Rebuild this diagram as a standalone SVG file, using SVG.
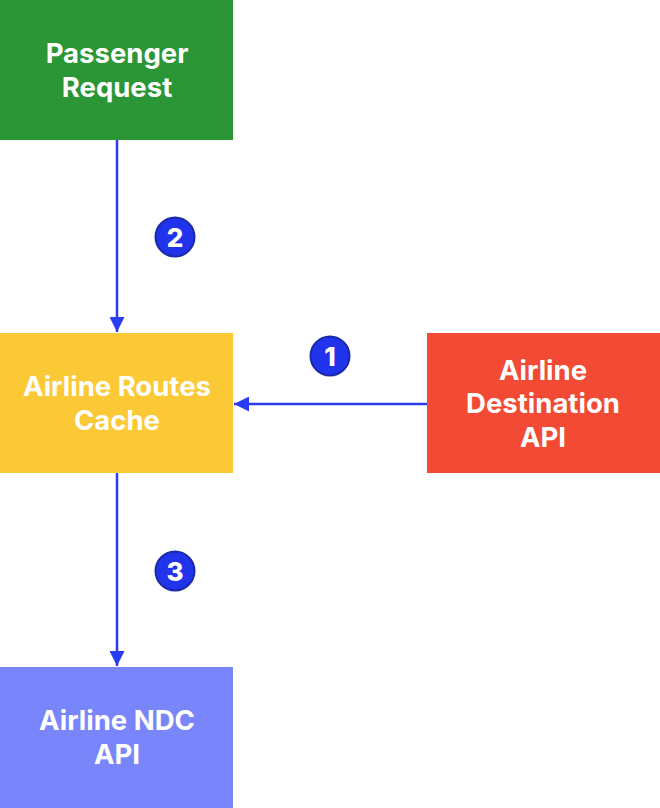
<svg xmlns="http://www.w3.org/2000/svg" width="660" height="808" viewBox="0 0 660 808">
<style>
.lbl{font-family:Inter,"Noto Sans","Liberation Sans",sans-serif;font-weight:700;font-size:27.5px;fill:#ffffff;text-anchor:middle}
.edge{stroke:#2a3bf5;stroke-width:2.5;fill:none}
.badge{fill:#2233ec;stroke:#1a2aa8;stroke-width:2}
.num{font-family:Inter,"Noto Sans","Liberation Sans",sans-serif;font-weight:800;font-size:26px;fill:#ffffff;text-anchor:middle}
</style>
<defs>
<marker id="arr" viewBox="0 0 10 10" refX="10" refY="5" markerWidth="6" markerHeight="6" markerUnits="strokeWidth" orient="auto">
<path d="M0,0 L10,5 L0,10 z" fill="#2a3bf5"/>
</marker>
</defs>
<rect width="660" height="808" fill="#ffffff"/>
<g id="connectors">
<line class="edge" x1="117" y1="140" x2="117" y2="332" marker-end="url(#arr)"/>
<line class="edge" x1="427" y1="404" x2="234" y2="404" marker-end="url(#arr)"/>
<line class="edge" x1="117" y1="473" x2="117" y2="666" marker-end="url(#arr)"/>
<g id="badge1"><circle class="badge" cx="330" cy="356" r="19.5"/><text class="num" x="330" y="365.5">1</text></g>
<g id="badge2"><circle class="badge" cx="175" cy="237" r="19.5"/><text class="num" x="175" y="246.5">2</text></g>
<g id="badge3"><circle class="badge" cx="175" cy="571" r="19.5"/><text class="num" x="175" y="580.5">3</text></g>
</g>
<g id="passenger-request">
<rect x="0" y="0" width="233" height="140" fill="#2a9636"/>
<text class="lbl" x="117" y="63">Passenger</text>
<text class="lbl" x="117" y="97">Request</text>
</g>
<g id="airline-routes-cache">
<rect x="0" y="333" width="233" height="140" fill="#fbc935"/>
<text class="lbl" x="117" y="396">Airline Routes</text>
<text class="lbl" x="117" y="430">Cache</text>
</g>
<g id="airline-destination-api">
<rect x="427" y="333" width="233" height="140" fill="#f24a35"/>
<text class="lbl" x="543" y="380">Airline</text>
<text class="lbl" x="543" y="413">Destination</text>
<text class="lbl" x="543" y="447">API</text>
</g>
<g id="airline-ndc-api">
<rect x="0" y="667" width="233" height="141" fill="#7986fb"/>
<text class="lbl" x="117" y="730">Airline NDC</text>
<text class="lbl" x="117" y="764">API</text>
</g>
</svg>
